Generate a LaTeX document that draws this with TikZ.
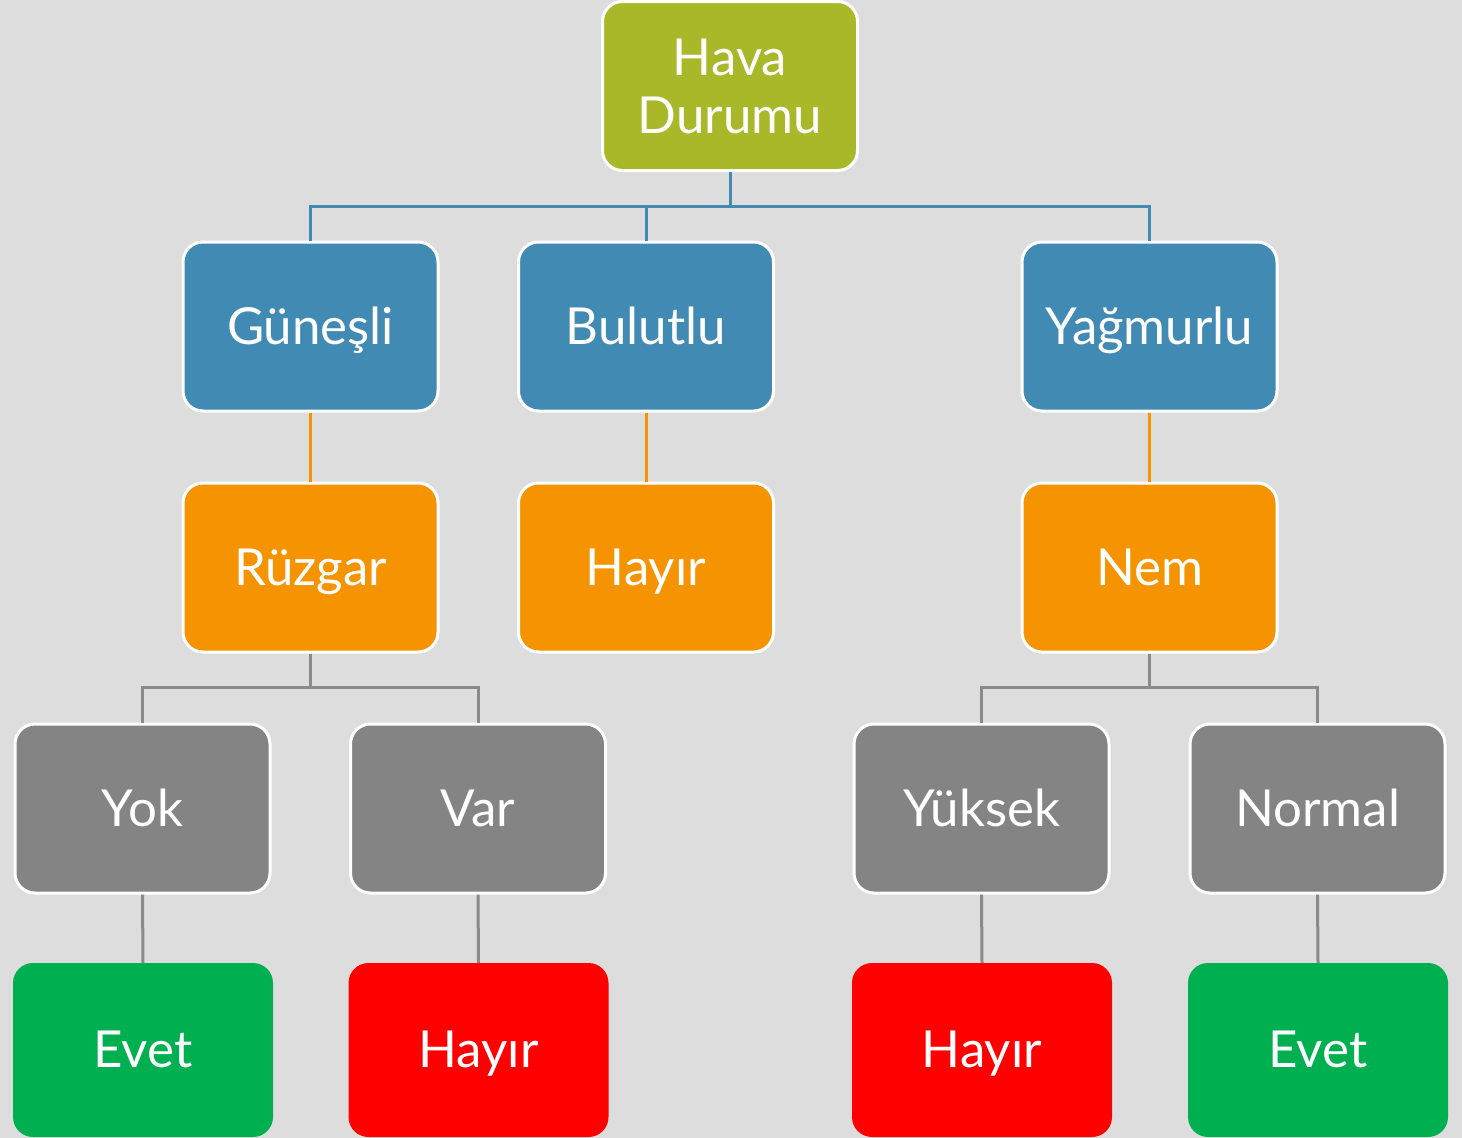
\documentclass[tikz,border=0pt]{standalone}
\usepackage{fontspec}
\setmainfont{Lato}
\usetikzlibrary{calc}
\definecolor{bgc}{HTML}{DDDDDD}
\definecolor{olive}{HTML}{A8B829}
\definecolor{steel}{HTML}{418AB3}
\definecolor{amber}{HTML}{F59300}
\definecolor{slate}{HTML}{848484}
\definecolor{leaf}{HTML}{00AF50}
\definecolor{alarm}{HTML}{FF0000}
\definecolor{wire}{HTML}{8A8A8A}
\tikzset{
  box/.style={rectangle, rounded corners=20pt, draw=white, line width=3pt,
    minimum width=255pt, minimum height=169pt, inner sep=0pt,
    text=white, align=center, font=\fontsize{51}{58}\selectfont},
  oneline/.style={text height=45pt, text depth=10pt},
  leafbox/.style={rectangle, rounded corners=20pt, draw=none,
    minimum width=260pt, minimum height=174pt, inner sep=0pt,
    text=white, align=center, font=\fontsize{51}{58}\selectfont, oneline},
  bluewire/.style={draw=steel, line width=3pt},
  orangewire/.style={draw=amber, line width=3pt},
  graywire/.style={draw=wire, line width=3pt},
}
\begin{document}
\begin{tikzpicture}[x=1pt,y=1pt]
\fill[bgc] (0,0) rectangle (1462,-1138);
\useasboundingbox (0,0) rectangle (1462,-1138);

% root
\node[box, fill=olive] (hava) at (730,-86) {Hava\\Durumu};

% outlook values
\node[box, oneline, fill=steel] (gunesli) at (310.5,-326.5) {Güneşli};
\node[box, oneline, fill=steel] (bulutlu) at (646,-326.5) {Bulutlu};
\node[box, oneline, fill=steel] (yagmurlu) at (1149.5,-326.5) {Yağmurlu};

% second-level attributes
\node[box, oneline, fill=amber] (ruzgar) at (310.5,-567.5) {Rüzgar};
\node[box, oneline, fill=amber] (hayirB) at (646,-567.5) {Hayır};
\node[box, oneline, fill=amber] (nem) at (1149.5,-567.5) {Nem};

% attribute values
\node[box, oneline, fill=slate] (yok) at (142.5,-808.5) {Yok};
\node[box, oneline, fill=slate] (var) at (478,-808.5) {Var};
\node[box, oneline, fill=slate] (yuksek) at (981.5,-808.5) {Yüksek};
\node[box, oneline, fill=slate] (normal) at (1317.5,-808.5) {Normal};

% decisions
\node[leafbox, fill=leaf] (evetA) at (143,-1050) {Evet};
\node[leafbox, fill=alarm] (hayirA) at (478.5,-1050) {Hayır};
\node[leafbox, fill=alarm] (hayirC) at (982,-1050) {Hayır};
\node[leafbox, fill=leaf] (evetB) at (1318,-1050) {Evet};

% connectors
\draw[bluewire] (hava.south) -- ++(0,-34) -| (gunesli.north);
\draw[bluewire] (hava.south) -- ++(0,-34) -| (bulutlu.north);
\draw[bluewire] (hava.south) -- ++(0,-34) -| (yagmurlu.north);

\draw[orangewire] (gunesli.south) -- (ruzgar.north);
\draw[orangewire] (bulutlu.south) -- (hayirB.north);
\draw[orangewire] (yagmurlu.south) -- (nem.north);

\draw[graywire] (ruzgar.south) -- ++(0,-34) -| (yok.north);
\draw[graywire] (ruzgar.south) -- ++(0,-34) -| (var.north);
\draw[graywire] (nem.south) -- ++(0,-34) -| (yuksek.north);
\draw[graywire] (nem.south) -- ++(0,-34) -| (normal.north);

\draw[graywire] (yok.south) -- (evetA.north);
\draw[graywire] (var.south) -- (hayirA.north);
\draw[graywire] (yuksek.south) -- (hayirC.north);
\draw[graywire] (normal.south) -- (evetB.north);
\end{tikzpicture}
\end{document}
